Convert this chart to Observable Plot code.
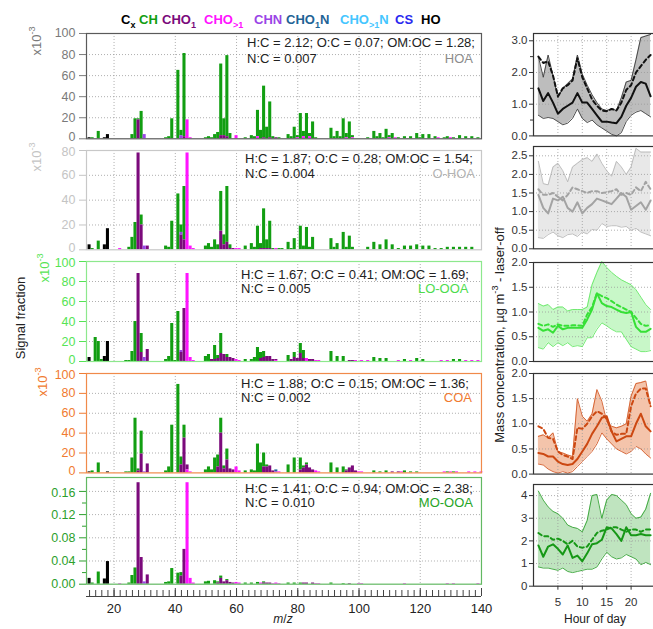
<!DOCTYPE html>
<html><head><meta charset="utf-8">
<script src="https://cdn.jsdelivr.net/npm/d3@7"></script>
<script src="https://cdn.jsdelivr.net/npm/@observablehq/plot@0.6"></script>
<style>
html,body{margin:0;padding:0;background:#fff;overflow:hidden}
#c{position:relative;width:653px;height:629px;overflow:hidden;font-family:"Liberation Sans",Arial,sans-serif;background:#fff}
#c svg{position:absolute}
.t{position:absolute;white-space:nowrap;line-height:1}
.t sub,.t sup{font-size:70%;line-height:0}
</style></head><body><div id="c"></div>
<script>
const FONT = "Liberation Sans, Arial, sans-serif";
// ---------- families ----------
const families = ["Cx","CH","CHO1","CHO>1","CHN","CHO1N","CHO>1N","CS","HO"];
const familyLabels = ["C<sub>x</sub>","CH","CHO<sub>1</sub>","CHO<sub>&gt;1</sub>","CHN","CHO<sub>1</sub>N","CHO<sub>&gt;1</sub>N","CS","HO"];
const familyColors = ["#000000","#129e12","#7b0a7b","#ff14ff","#9a45e6","#1f6496","#45c6ff","#2929f0","#000000"];
const stackOrder = ["Cx","HO","CHO>1","CHO1","CHN","CHO1N","CHO>1N","CS","CH"];

// ---------- spectra (x10^-3 for first four, fraction for MO-OOA) ----------
const hoaCx = [[12,1]];
const hoaHO = [[17,1],[18,4]];
const hoaCH = [[13,1],[15,7],[26,4],[27,19],[28,1],[29,26],[37,1],[38,2],[39,19],[41,65],[42,5],[43,79],[50,1],[51,2],[52,1],[53,4],[54,6],[55,68],[56,16],[57,77],[58,5],[63,1],[65,3],[66,2],[67,25],[68,8],[69,49],[70,11],[71,34],[72,2],[74,1],[77,4],[78,2],[79,11],[80,2],[81,24],[82,5],[83,24],[84,3],[85,16],[86,1],[91,10],[92,2],[93,7],[94,2],[95,19],[96,4],[97,16],[98,2],[103,1],[105,7],[106,2],[107,5],[108,1],[109,9],[110,2],[111,5],[113,1],[115,2],[117,2],[119,5],[120,1],[121,4],[123,4],[125,2],[128,1],[129,2],[131,1],[133,3],[135,2],[137,2],[139,1]];
const hoaCHO1 = [[28,18],[43,2],[55,3],[56,3],[57,2],[69,1],[71,1],[73,1]];
const hoaCHO2 = [[44,18],[45,1],[60,3],[67,2],[80,1],[82,2],[84,2],[96,1],[98,1],[110,1],[112,1],[126,1],[130,1]];
const hoaCHN = [[30,4],[42,3]];

const ohoaCx = [[12,4]];
const ohoaHO = [[17,4],[18,17]];
const ohoaCH = [[13,1],[15,7],[25,2],[26,10],[27,22],[29,8],[37,3],[38,2],[39,23],[41,45],[42,6],[43,43],[50,3],[51,5],[52,2],[53,8],[54,4],[55,32],[56,8],[57,45],[58,3],[63,3],[65,5],[66,2],[67,19],[68,4],[69,32],[70,7],[71,22],[72,1],[74,1],[75,1],[77,6],[78,1],[79,9],[81,19],[82,3],[83,18],[84,2],[85,10],[91,9],[92,2],[93,5],[95,14],[96,2],[97,11],[98,2],[103,2],[105,6],[107,4],[109,8],[111,4],[113,1],[115,3],[117,3],[119,4],[121,3],[123,3],[125,1],[127,1],[129,2],[131,2],[133,2],[135,2],[137,2]];
const ohoaCHO1 = [[28,78],[29,20],[31,3],[42,12],[43,8],[55,15],[56,4],[57,6],[58,1],[59,1],[68,1],[69,1],[70,1],[71,1]];
const ohoaCHO2 = [[22,1],[44,78],[45,3],[46,1],[60,1],[61,1],[73,1]];
const ohoaCHN = [[30,3],[42,2]];

const looCx = [[12,4]];
const looHO = [[17,5],[18,20]];
const looCH = [[14,24],[15,20],[16,2],[24,1],[25,1],[26,10],[27,40],[29,19],[37,2],[38,5],[39,38],[40,1],[41,50],[50,5],[51,7],[53,14],[54,3],[55,20],[57,3],[63,2],[65,2],[66,4],[67,14],[68,6],[69,6],[77,6],[79,5],[81,10],[82,8],[91,10],[93,5],[95,5],[105,4],[107,3],[109,3],[115,2],[119,3],[121,2],[131,2],[133,2]];
const looCHO1 = [[28,88],[29,9],[31,12],[42,9],[43,53],[52,2],[53,2],[54,3],[55,8],[56,7],[57,4],[58,4],[59,3],[68,3],[69,4],[70,5],[71,5],[72,2],[73,1],[78,2],[79,4],[80,3],[81,8],[82,3],[84,2],[85,2],[97,1],[98,1]];
const looCHO2 = [[44,88],[45,4],[46,1],[60,2],[61,1],[73,1],[83,3],[86,1],[87,1],[99,1],[101,1],[103,1],[113,1],[117,1],[127,1],[129,1],[135,1],[137,1],[139,1]];
const looCHN = [[30,4],[42,2]];

const coaCx = [[12,1]];
const coaHO = [[18,1]];
const coaCH = [[13,2],[15,10],[24,1],[25,1],[26,15],[27,55],[28,2],[29,23],[37,2],[38,6],[39,48],[41,89],[42,8],[43,13],[50,3],[51,6],[52,3],[53,15],[54,12],[55,15],[56,3],[57,11],[63,2],[65,3],[66,2],[67,29],[68,10],[69,14],[70,2],[77,8],[79,15],[81,12],[82,2],[83,2],[91,10],[93,5],[95,6],[96,1],[105,2],[107,1],[109,2],[115,2],[117,1],[119,1],[129,1],[131,1]];
const coaCHO1 = [[28,2],[29,19],[31,9],[42,8],[43,35],[44,5],[54,6],[55,40],[56,4],[57,13],[58,4],[59,3],[69,6],[70,6],[71,7],[72,2],[81,3],[82,5],[83,8],[84,5],[85,3],[96,2],[97,5],[98,7],[99,2],[111,1],[113,1]];
const coaCHO2 = [[44,3],[45,1],[60,6],[61,2],[73,1],[74,1],[86,2],[87,1],[100,1],[101,1],[114,1],[128,1],[130,1],[132,1],[136,1],[138,1],[140,1]];
const coaCHO1N = [[73,2]];
const coaCHN = [[30,1]];

const mooCx = [[12,0.010]];
const mooHO = [[17,0.009],[18,0.039]];
const mooCH = [[13,0.002],[15,0.021],[25,0.002],[26,0.015],[27,0.028],[37,0.003],[38,0.004],[39,0.027],[41,0.019],[42,0.006],[50,0.004],[51,0.005],[53,0.006],[54,0.002],[55,0.004],[57,0.002],[63,0.002],[65,0.002],[67,0.003],[69,0.002],[77,0.002],[79,0.002],[81,0.002],[91,0.002],[95,0.001]];
const mooCHO1 = [[28,0.175],[29,0.046],[31,0.016],[42,0.014],[43,0.060],[54,0.002],[55,0.010],[56,0.004],[57,0.006],[58,0.003],[59,0.002],[69,0.002],[70,0.002],[71,0.002],[82,0.002],[83,0.002],[85,0.002],[97,0.001]];
const mooCHO2 = [[22,0.001],[44,0.175],[45,0.010],[46,0.002],[60,0.003],[61,0.002],[68,0.002],[72,0.001],[73,0.002],[74,0.001],[86,0.001],[87,0.001],[100,0.001],[101,0.001],[115,0.001],[129,0.001],[131,0.001],[139,0.001]];
const mooCHN = [[30,0.004]];

// ---------- tick labels ----------
const mzTicks = [20,40,60,80,100,120,140];
const yTicks100 = [0,20,40,60,80,100];
const yTicks80 = [0,20,40,60,80];
const yTicksMO = [0,0.04,0.08,0.12,0.16];
const yMinorMO = [0.02,0.06,0.10,0.14];

// ---------- diurnal profiles (hour of day) ----------
const hours = [1,2,3,4,5,6,7,8,9,10,11,12,13,14,15,16,17,18,19,20,21,22,23,24];
const hoaHi   = [2.50,1.85,2.55,1.90,1.20,1.50,1.65,1.80,2.55,1.95,1.60,1.30,1.05,0.85,0.80,0.85,0.80,1.20,1.70,1.75,2.40,3.10,3.15,3.20];
const hoaMean = [2.50,2.30,2.35,1.90,1.25,1.50,1.60,1.75,2.45,1.85,1.50,1.15,0.95,0.80,0.78,0.85,0.80,1.05,1.45,1.60,2.00,2.20,2.40,2.55];
const hoaMed  = [1.50,1.10,1.35,1.05,0.70,0.85,0.95,1.05,1.35,1.05,1.05,0.85,0.65,0.45,0.45,0.42,0.40,0.60,0.95,1.20,1.55,1.70,1.65,1.25];
const hoaLo   = [0.65,0.55,0.58,0.55,0.45,0.35,0.40,0.55,0.85,0.55,0.42,0.50,0.35,0.25,0.15,0.05,0.00,0.10,0.45,0.65,0.75,0.80,0.70,0.60];

const ohoaHi   = [2.35,1.75,1.72,2.20,2.30,2.10,1.80,2.20,2.30,2.40,2.45,2.35,2.55,2.30,2.10,1.95,2.35,2.20,2.00,2.20,2.70,2.60,2.60,2.60];
const ohoaMean = [1.60,1.45,1.45,1.50,1.40,1.30,1.45,1.65,1.60,1.55,1.50,1.55,1.55,1.50,1.52,1.55,1.60,1.45,1.50,1.45,1.65,1.55,1.80,1.60];
const ohoaMed  = [1.45,1.10,0.95,1.35,1.30,1.40,1.10,1.00,1.25,0.95,1.10,1.20,1.35,1.30,1.25,1.20,1.35,1.50,1.40,1.05,1.15,1.25,1.05,1.30];
const ohoaLo   = [0.30,0.28,0.38,0.45,0.35,0.30,0.38,0.40,0.33,0.45,0.40,0.52,0.50,0.68,0.60,0.62,0.62,0.58,0.60,0.50,0.55,0.45,0.40,0.35];

const looHi   = [1.17,1.12,1.15,1.05,1.10,1.10,1.02,1.05,1.05,1.05,1.10,1.55,1.80,2.02,1.90,1.80,1.72,1.65,1.60,1.55,1.45,1.30,1.15,1.05];
const looMean = [0.76,0.72,0.75,0.70,0.75,0.72,0.72,0.73,0.73,0.72,0.95,1.10,1.38,1.32,1.28,1.22,1.15,1.10,1.05,1.00,0.88,0.76,0.72,0.74];
const looMed  = [0.68,0.62,0.65,0.58,0.72,0.65,0.68,0.68,0.68,0.68,0.85,1.05,1.38,1.18,1.12,1.10,1.05,1.00,0.98,1.00,0.70,0.60,0.60,0.66];
const looLo   = [0.28,0.25,0.38,0.30,0.38,0.32,0.38,0.30,0.32,0.30,0.48,0.48,0.65,0.78,0.72,0.65,0.60,0.60,0.45,0.30,0.25,0.20,0.20,0.22];

const coaHi   = [0.75,0.78,0.72,0.82,0.45,0.42,0.38,0.35,1.50,1.15,1.05,1.20,1.68,1.45,1.05,0.95,0.92,0.95,1.00,1.55,1.80,1.82,1.85,1.35];
const coaMean = [0.95,0.90,0.72,0.70,0.45,0.38,0.35,0.30,0.92,0.90,1.00,1.15,1.25,1.20,1.10,0.85,0.78,0.80,0.80,1.35,1.60,1.70,1.70,1.35];
const coaMed  = [0.42,0.40,0.35,0.35,0.25,0.20,0.18,0.20,0.30,0.45,0.60,0.80,0.95,1.12,1.15,0.85,0.65,0.70,0.75,0.75,1.00,1.20,0.95,0.85];
const coaLo   = [0.20,0.18,0.10,0.05,0.02,0.05,0.02,0.05,0.15,0.25,0.35,0.45,0.60,0.82,0.70,0.60,0.50,0.45,0.40,0.45,0.55,0.50,0.40,0.32];

const mooHi   = [4.20,3.80,3.50,3.30,3.20,3.00,2.70,2.60,2.55,2.40,2.90,4.00,4.05,3.00,3.80,4.05,4.00,3.80,3.60,3.20,3.00,3.05,3.40,4.10];
const mooMean = [2.35,2.20,2.20,2.05,2.10,2.00,1.85,2.00,1.75,1.70,1.75,2.05,2.35,2.45,2.50,2.60,2.60,2.50,2.40,2.50,2.50,2.40,2.50,2.50];
const mooMed  = [1.80,1.30,1.75,1.85,1.65,1.40,1.80,1.25,1.35,1.10,1.45,1.85,1.90,2.05,2.60,2.55,2.30,2.00,2.60,2.25,2.25,2.30,2.25,2.25];
const mooLo   = [0.85,0.80,0.80,0.75,0.70,0.80,0.65,0.60,0.65,0.70,0.75,0.75,0.85,1.20,1.50,1.30,1.20,1.25,1.40,1.30,1.20,0.95,1.05,0.95];

const hourTicks = [5,10,15,20];

// ---------- helpers ----------
const root = document.getElementById("c");
function place(node, left, top){ node.style.left = left+"px"; node.style.top = top+"px"; root.appendChild(node); }
function txt(html, css){ const d = document.createElement("div"); d.className = "t"; d.innerHTML = html; Object.assign(d.style, css); root.appendChild(d); return d; }
function spectrum(parts){
  const rows = [];
  for (const [fam, arr] of parts) for (const [mz, v] of arr) rows.push({fam, x1: mz - 0.5, x2: mz + 0.5, v});
  return rows;
}
function profile(hi, mean, med, lo){ return hours.map((h,i)=>({h, hi: hi[i], mean: mean[i], med: med[i], lo: lo[i]})); }
const GRID = {stroke:"#9a9a9a", strokeDasharray:"1,2", strokeWidth:0.8};
const mzDomain = [11, 140];

// ---------- left panels ----------
const leftPanels = [
  {rows: spectrum([["Cx",hoaCx],["HO",hoaHO],["CH",hoaCH],["CHO1",hoaCHO1],["CHO>1",hoaCHO2],["CHN",hoaCHN]]),
   top:32.7, bottom:138, ymax:100, ticks:yTicks100, tick:"#7a7a7a", frame:"#5a5a5a", name:"HOA", nameColor:"#8c8c8c",
   line1:"H:C = 2.12; O:C = 0.07; OM:OC = 1.28;", line2:"N:C = 0.007", tx:247, ty1:43.5, ty2:59, nx:473, exp:[36,41], first:true},
  {rows: spectrum([["Cx",ohoaCx],["HO",ohoaHO],["CH",ohoaCH],["CHO1",ohoaCHO1],["CHO>1",ohoaCHO2],["CHN",ohoaCHN]]),
   top:150, bottom:249.3, ymax:80, ticks:yTicks80, tick:"#c4c4c4", frame:"#c8c8c8", name:"O-HOA", nameColor:"#b4b4b4",
   line1:"H:C = 1.87; O:C = 0.28; OM:OC = 1.54;", line2:"N:C = 0.004", tx:245, ty1:159.5, ty2:174, nx:475, exp:[36,157]},
  {rows: spectrum([["Cx",looCx],["HO",looHO],["CH",looCH],["CHO1",looCHO1],["CHO>1",looCHO2],["CHN",looCHN]]),
   top:261, bottom:361, ymax:100, ticks:yTicks100, tick:"#55e455", frame:"#8de88d", name:"LO-OOA", nameColor:"#4ddc4d",
   line1:"H:C = 1.67; O:C = 0.41; OM:OC = 1.69;", line2:"N:C = 0.005", tx:241, ty1:275, ty2:289, nx:468.5, exp:[44,268]},
  {rows: spectrum([["Cx",coaCx],["HO",coaHO],["CH",coaCH],["CHO1",coaCHO1],["CHO>1",coaCHO2],["CHO1N",coaCHO1N],["CHN",coaCHN]]),
   top:373.3, bottom:472.7, ymax:100, ticks:yTicks100, tick:"#f07a30", frame:"#f08a4a", name:"COA", nameColor:"#f07a30",
   line1:"H:C = 1.88; O:C = 0.15; OM:OC = 1.36;", line2:"N:C = 0.002", tx:241, ty1:384, ty2:398.5, nx:472, exp:[42,382]},
  {rows: spectrum([["Cx",mooCx],["HO",mooHO],["CH",mooCH],["CHO1",mooCHO1],["CHO>1",mooCHO2],["CHN",mooCHN]]),
   top:477, bottom:583.7, ymax:0.184, ticks:yTicksMO, minor:yMinorMO, fmt:d3.format(".2f"), tick:"#2ca02c", frame:"#62b862", name:"MO-OOA", nameColor:"#27a527",
   line1:"H:C = 1.41; O:C = 0.94; OM:OC = 2.38;", line2:"N:C = 0.010", tx:245, ty1:489.5, ty2:503.5, nx:473, exp:null, last:true}
];

for (const p of leftPanels){
  const mt = 6, mb = 6, h = p.bottom - p.top;
  const n = p.ticks.length;
  const AX = {tickSize: 0, tickPadding: 11, color: p.tick, tickFormat: p.fmt, label: null, fontSize: 12.5};
  const svg = Plot.plot({
    width: 492, height: h + mt + mb, marginLeft: 86, marginRight: 11, marginTop: mt, marginBottom: mb,
    x: {domain: mzDomain, axis: null},
    y: {domain: [0, p.ymax], axis: null},
    color: {domain: families, range: familyColors},
    style: {fontFamily: FONT, fontSize: "12.5px", background: "transparent", overflow: "visible"},
    marks: [
      Plot.ruleX(mzTicks.filter(d => d < 140), GRID),
      Plot.ruleY(p.ticks.filter(d => d > 0 && d < p.ymax), GRID),
      Plot.rectY(p.rows, {x1: "x1", x2: "x2", y: "v", fill: "fam", order: stackOrder}),
      // tick marks
      Plot.axisY({ticks: p.ticks, tickSize: 7, tickFormat: () => "", color: p.tick, label: null}),
      p.minor ? Plot.axisY({ticks: p.minor, tickSize: 4, tickFormat: () => "", color: p.tick, label: null}) : null,
      // tick labels (edge labels nudged so stacked panels do not collide)
      Plot.axisY({...AX, ticks: p.ticks.slice(1, n - 1)}),
      Plot.axisY({...AX, ticks: [p.ticks[0]], dy: p.last ? 0 : -1.5}),
      Plot.axisY({...AX, ticks: [p.ticks[n - 1]], dy: p.first ? 0 : 1.5}),
      Plot.frame({stroke: p.frame, strokeWidth: 1.2})
    ]
  });
  place(svg, 0, p.top - mt);
  txt(p.line1, {left: p.tx+"px", top: (p.ty1 - 7.5)+"px", fontSize: "13px", color: "#222"});
  txt(p.line2, {left: p.tx+"px", top: (p.ty2 - 7.5)+"px", fontSize: "13px", color: "#222"});
  txt(p.name, {left: p.nx+"px", top: (p.ty2 - 7.5)+"px", fontSize: "13px", color: p.nameColor, transform: "translateX(-100%)"});
  if (p.exp) txt("x10<sup>-3</sup>", {left: p.exp[0]+"px", top: p.exp[1]+"px", fontSize: "13px", color: p.tick, transform: "translate(-50%,-50%) rotate(-90deg)"});
}

// bottom m/z axis (offset below the last panel)
{
  const mzMinor = d3.range(12, 141, 2);
  const svg = Plot.plot({
    width: 492, height: 40, marginLeft: 86, marginRight: 11, marginTop: 2, marginBottom: 30,
    x: {domain: mzDomain, axis: null},
    y: {domain: [0, 1], axis: null},
    style: {fontFamily: FONT, fontSize: "13px", background: "transparent", overflow: "visible"},
    marks: [
      Plot.ruleX(mzMinor, {y1: 0, y2: 0.75, stroke: "#444"}),
      Plot.ruleX(mzTicks, {y1: 0, y2: 1, stroke: "#444"}),
      Plot.ruleY([0], {stroke: "#444"}),
      Plot.axisX({ticks: mzTicks, tickSize: 0, tickPadding: 7, fontSize: 13, color: "#222", label: null})
    ]
  });
  place(svg, 0, 586);
}

// ---------- right panels ----------
const rightPanels = [
  {rows: profile(hoaHi,hoaMean,hoaMed,hoaLo), top:33.3, bottom:135.7, ymax:3.23, ticks:[0,1,2,3], minor:[0.5,1.5,2.5], fmt:d3.format(".1f"),
   line:"#111111", fill:"#bdbdbd", bound:"#3a3a3a"},
  {rows: profile(ohoaHi,ohoaMean,ohoaMed,ohoaLo), top:146, bottom:248.3, ymax:2.75, ticks:[0,0.5,1,1.5,2,2.5], fmt:d3.format(".1f"),
   line:"#a3a3a3", fill:"#e8e8e8", bound:"#b8b8b8"},
  {rows: profile(looHi,looMean,looMed,looLo), top:261.7, bottom:360.7, ymax:2.0, ticks:[0,0.5,1,1.5,2], fmt:d3.format(".1f"),
   line:"#36e036", fill:"#c8f7c8", bound:"#66e866"},
  {rows: profile(coaHi,coaMean,coaMed,coaLo), top:372.7, bottom:473.3, ymax:2.0, ticks:[0,0.5,1,1.5,2], fmt:d3.format(".1f"),
   line:"#cc4812", fill:"#f4c4ab", bound:"#d25a28"},
  {rows: profile(mooHi,mooMean,mooMed,mooLo), top:484.3, bottom:586, ymax:4.49, ticks:[0,1,2,3,4], fmt:d3.format("d"),
   line:"#169816", fill:"#bfe4bf", bound:"#33a333", last:true}
];

for (const p of rightPanels){
  const mt = 6, mb = p.last ? 30 : 6, h = p.bottom - p.top;
  const svg = Plot.plot({
    width: 155, height: h + mt + mb, marginLeft: 33, marginRight: 0, marginTop: mt, marginBottom: mb,
    x: {domain: [0, 25], axis: null},
    y: {domain: [0, p.ymax], axis: null},
    style: {fontFamily: FONT, fontSize: "11.5px", background: "transparent", overflow: "visible"},
    marks: [
      Plot.areaY(p.rows, {x: "h", y1: "lo", y2: "hi", fill: p.fill}),
      Plot.ruleX(hourTicks, GRID),
      Plot.ruleY(p.ticks.filter(d => d > 0), GRID),
      Plot.lineY(p.rows, {x: "h", y: "lo", stroke: p.bound, strokeWidth: 0.9}),
      Plot.lineY(p.rows, {x: "h", y: "hi", stroke: p.bound, strokeWidth: 0.9}),
      Plot.lineY(p.rows, {x: "h", y: "mean", stroke: p.line, strokeWidth: 2, strokeDasharray: "4,3"}),
      Plot.lineY(p.rows, {x: "h", y: "med", stroke: p.line, strokeWidth: 2}),
      Plot.axisY({ticks: p.ticks, tickSize: 4, tickPadding: 2, color: "#333", tickFormat: p.fmt, label: null, fontSize: 11.5}),
      p.minor ? Plot.axisY({ticks: p.minor, tickSize: 3, tickFormat: () => "", color: "#333", label: null}) : null,
      p.last ? Plot.axisX({ticks: hourTicks, tickSize: 4, tickPadding: 8, color: "#333", label: null, fontSize: 11.5}) : null,
      Plot.frame({stroke: "#333", strokeWidth: 1.2})
    ]
  });
  place(svg, 500, p.top - mt);
}

// ---------- titles & legend ----------
const legendX = [121,139,162,204,254,286,340,395,421];
families.forEach((f,i) => txt(familyLabels[i], {left: legendX[i]+"px", top: "13px", fontSize: "13px", fontWeight: "bold", color: familyColors[i]}));
txt("Signal fraction", {left: "20px", top: "318px", fontSize: "13px", color: "#222", transform: "translate(-50%,-50%) rotate(-90deg)"});
txt("Mass concentration, µg m<sup>-3</sup> - laser-off", {left: "499px", top: "335px", fontSize: "13px", color: "#222", transform: "translate(-50%,-50%) rotate(-90deg)"});
txt("<i>m</i>/<i>z</i>", {left: "283px", top: "619px", fontSize: "12px", color: "#222", transform: "translate(-50%,-50%)"});
txt("Hour of day", {left: "595px", top: "619px", fontSize: "12px", color: "#222", transform: "translate(-50%,-50%)"});
</script></body></html>
